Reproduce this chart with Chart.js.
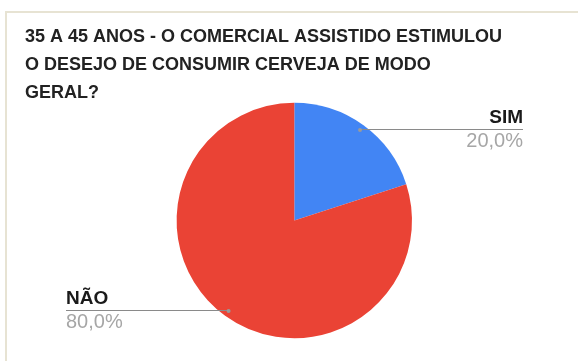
<!DOCTYPE html>
<html>
<head>
<meta charset="utf-8">
<script src="https://cdn.jsdelivr.net/npm/chart.js@4"></script>
<style>
    html, body { margin: 0; padding: 0; background: #fff; }
    #wrap { position: relative; width: 578px; height: 361px; }
    #frame { position: absolute; left: 5px; top: 11px; right: 0; bottom: 0;
             border-left: 2px solid #e7e3d3; border-top: 2px solid #e7e3d3; }
    #chart { position: absolute; left: 0; top: 0; }
</style>
</head>
<body>
<div id="wrap">
    <div id="frame"></div>
    <canvas id="chart" width="578" height="361"></canvas>
</div>
<script>
const titleLines = [
    '35 A 45 ANOS - O COMERCIAL ASSISTIDO ESTIMULOU',
    'O DESEJO DE CONSUMIR CERVEJA DE MODO',
    'GERAL?'
];
const answers = ['SIM', 'NÃO'];
const shares = [20.0, 80.0];
const sliceColors = ['#4285f4', '#ea4335'];

const FONT = '"Liberation Sans", Arial, sans-serif';

// title + leader-line labels, drawn after the slices
const pieLabels = {
    id: 'pieLabels',
    afterDraw(chart) {
        const ctx = chart.ctx;
        ctx.save();

        ctx.fillStyle = '#222';
        ctx.font = 'bold 18px ' + FONT;
        ctx.textAlign = 'left';
        ctx.textBaseline = 'alphabetic';
        titleLines.forEach((line, i) => ctx.fillText(line, 25, 42 + i * 28));

        const arcs = chart.getDatasetMeta(0).data;
        arcs.forEach((arc, i) => {
            const mid = (arc.startAngle + arc.endAngle) / 2;
            const r = arc.outerRadius * 0.95;
            const px = arc.x + Math.cos(mid) * r;
            const py = arc.y + Math.sin(mid) * r;
            const right = Math.cos(mid) >= 0;
            const endX = right ? 523 : 66;
            const ly = Math.round(py) - 0.5;

            ctx.strokeStyle = '#8a8a8a';
            ctx.lineWidth = 1;
            ctx.beginPath();
            ctx.moveTo(px, ly);
            ctx.lineTo(endX, ly);
            ctx.stroke();

            ctx.fillStyle = '#9a9a9a';
            ctx.beginPath();
            ctx.arc(px, py, 2, 0, Math.PI * 2);
            ctx.fill();

            ctx.textAlign = right ? 'right' : 'left';
            ctx.fillStyle = '#1a1a1a';
            ctx.font = 'bold 19px ' + FONT;
            ctx.fillText(answers[i], endX, ly - 6.5);
            ctx.fillStyle = '#a6a6a6';
            ctx.font = '20px ' + FONT;
            ctx.fillText(shares[i].toFixed(1).replace('.', ',') + '%', endX, ly + 17.5);
        });
        ctx.restore();
    }
};

new Chart(document.getElementById('chart'), {
    type: 'pie',
    data: {
        labels: answers,
        datasets: [{
            data: shares,
            backgroundColor: sliceColors,
            borderWidth: 0
        }]
    },
    options: {
        responsive: false,
        animation: false,
        layout: { padding: { left: 176.6, right: 166, top: 102.8, bottom: 22.8 } },
        plugins: {
            legend: { display: false },
            tooltip: { enabled: false },
            title: { display: false }
        }
    },
    plugins: [pieLabels]
});
</script>
</body>
</html>
